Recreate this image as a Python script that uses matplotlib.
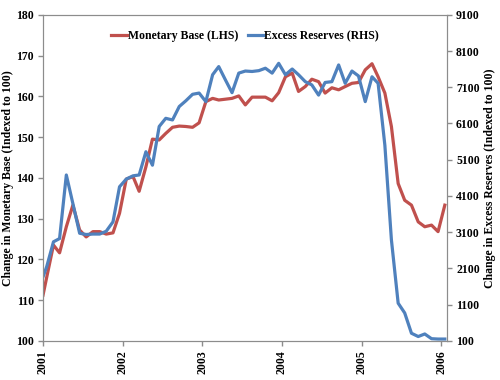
import numpy as np
import pandas as pd
import matplotlib
matplotlib.use("Agg")
import matplotlib.pyplot as plt

plt.rcParams['font.family'] = ['Liberation Serif', 'DejaVu Serif']
plt.rcParams['font.weight'] = 'bold'

# first value sits on the axis start, the rest are monthly readings
dates = pd.to_datetime(['2001-01-01']).append(
    pd.date_range('2001-01-01', '2006-01-01', freq='MS') + pd.Timedelta(days=17))

monetary_base = [111.2, 115.6, 123.5, 121.6, 128.0, 133.3, 127.2, 125.5, 126.8, 126.8,
                 126.2, 126.5, 131.3, 139.7, 140.3, 136.7, 142.7, 149.5, 149.3, 150.9,
                 152.4, 152.7, 152.6, 152.4, 153.5, 158.7, 159.5, 159.1, 159.3, 159.5,
                 160.1, 157.9, 159.8, 159.8, 159.8, 158.9, 160.9, 164.8, 165.7, 161.2,
                 162.4, 164.2, 163.6, 160.8, 162.1, 161.6, 162.4, 163.2, 163.4, 166.5,
                 168.0, 164.8, 160.8, 152.6, 138.6, 134.5, 133.3, 129.2, 128.0, 128.4,
                 126.8, 133.3]

excess_reserves = [1866, 2148, 2834, 2924, 4679, 3891, 3070, 3036, 3048, 3048,
                   3126, 3385, 4353, 4566, 4656, 4679, 5320, 4949, 6018, 6243,
                   6198, 6569, 6726, 6906, 6940, 6704, 7446, 7671, 7300, 6951,
                   7491, 7548, 7536, 7559, 7626, 7491, 7761, 7446, 7604, 7446,
                   7255, 7165, 6884, 7233, 7255, 7716, 7210, 7548, 7413, 6704,
                   7390, 7210, 5500, 2890, 1140, 870, 310, 220, 290, 160,
                   150, 150]

years = ['2001', '2002', '2003', '2004', '2005', '2006']

red = '#C0504D'
blue = '#4F81BD'
grey = '#8C8C8C'

fig = plt.figure(figsize=(5, 3.8), dpi=100)
ax = fig.add_axes([0.086, 0.103, 0.808, 0.858])
ax2 = ax.twinx()

l1, = ax.plot(dates, monetary_base, color=red, lw=2.3, label='Monetary Base (LHS)')
l2, = ax2.plot(dates, excess_reserves, color=blue, lw=2.3, label='Excess Reserves (RHS)')

ax.set_xlim(pd.Timestamp('2001-01-01'), pd.Timestamp('2006-01-28'))
ax.set_ylim(100, 180)
ax.set_yticks(np.arange(100, 181, 10))
ax2.set_ylim(100, 9100)
ax2.set_yticks(np.arange(100, 9101, 1000))

ax.set_xticks(pd.to_datetime([y + '-01-01' for y in years]))
ax.set_xticklabels(years, rotation=90)

for a in (ax, ax2):
    for s in a.spines.values():
        s.set_color(grey)
    a.tick_params(colors=grey, labelcolor='black', labelsize=8.5, length=3.5, width=1, pad=3)

ax.set_ylabel('Change in Monetary Base (Indexed to 100)', fontsize=8.5, fontweight='bold')
ax2.set_ylabel('Change in Excess Reserves (Indexed to 100)', fontsize=8.5, fontweight='bold',
               rotation=90)
ax.yaxis.set_label_coords(-0.073, 0.5)
ax2.yaxis.set_label_coords(1.092, 0.5)

ax2.legend([l1, l2], [l1.get_label(), l2.get_label()], loc='upper center',
           bbox_to_anchor=(0.5, 0.985), ncol=2, frameon=False, fontsize=8.5,
           handlelength=1.3, handletextpad=0.1, columnspacing=0.8)

fig.savefig('out.png', dpi=100)
